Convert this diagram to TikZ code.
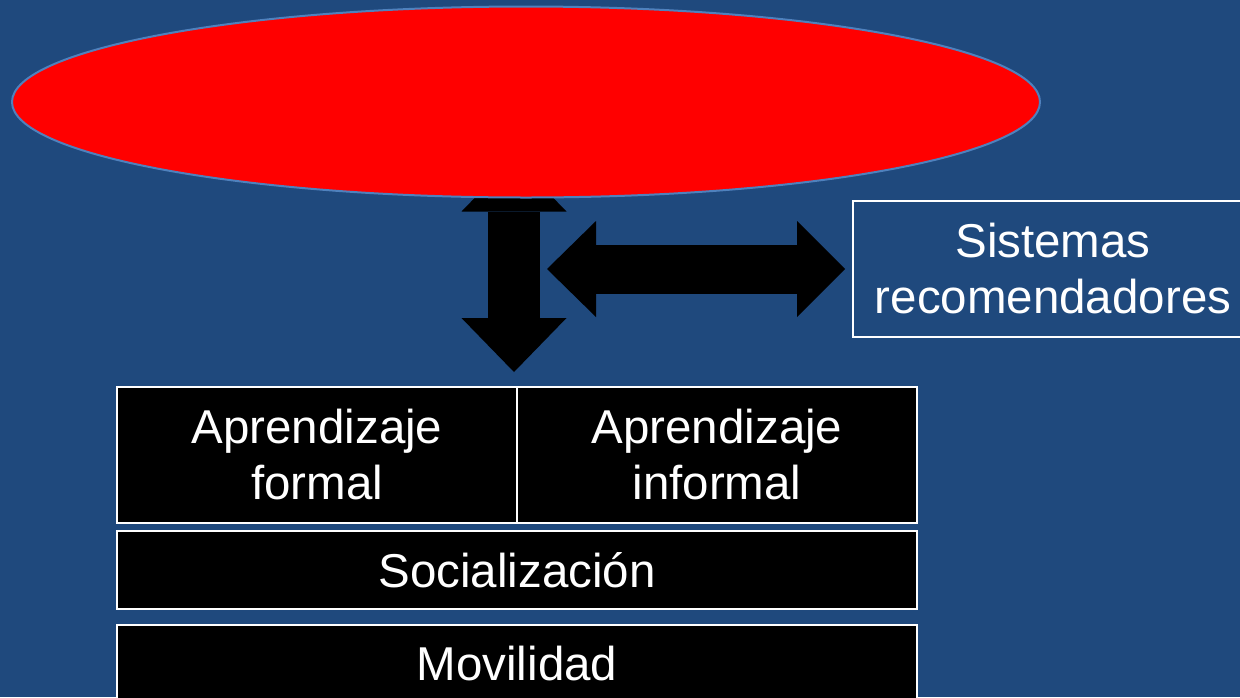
\documentclass[tikz,border=0pt]{standalone}
\usepackage{fontspec}
\setmainfont{Liberation Sans}
\usepackage{xcolor}
\usepackage{tikz}
\usetikzlibrary{shapes,arrows.meta,positioning,calc}

\definecolor{slideblue}{HTML}{1F497D}
\definecolor{rimblue}{HTML}{4F81BD}

\pgfdeclarelayer{back}
\pgfdeclarelayer{mid}
\pgfsetlayers{back,mid,main}

\begin{document}
\begin{tikzpicture}[
  x=1pt, y=-1pt,
  node distance=8pt and 0pt,
  every node/.style={outer sep=0pt, inner sep=0pt},
  bigtext/.style={font=\fontsize{47.5}{56}\selectfont, text=white, align=center},
  layerbox/.style={rectangle, draw=white, line width=1.5pt, fill=black,
    minimum width=400pt, bigtext},
  goal/.style={ellipse, draw=rimblue, line width=2pt, fill=red,
    minimum width=1028pt, minimum height=191pt},
  fatv/.style={line width=52pt,
    {Triangle[length=54pt,width=105pt,line width=0pt]}-{Triangle[length=54pt,width=105pt,line width=0pt]}},
  fath/.style={line width=49pt,
    {Triangle[length=49pt,width=96pt,line width=0pt]}-{Triangle[length=48pt,width=96pt,line width=0pt]}},
]
  \useasboundingbox (0,0) rectangle (1240,697);
  \begin{pgfonlayer}{back}
    \fill[slideblue] (0,0) rectangle (1240,697);
  \end{pgfonlayer}
  \clip (0,0) rectangle (1240,697);

  \node[goal] (goal) at (526,102) {};
  \node[layerbox, fill=slideblue, minimum height=136pt] (recsys) at (1053,269) {Sistemas\\recomendadores};
  \node[layerbox, minimum height=136pt] (formal) at (317,455) {Aprendizaje\\formal};
  \node[layerbox, minimum height=136pt, right=of formal] (informal) {Aprendizaje\\informal};
  \node[layerbox, minimum width=800pt, minimum height=78pt, below=of formal.south east] (social) {Socialización};
  \node[layerbox, minimum width=800pt, minimum height=78pt, below=16pt of social] (mobility) {Movilidad};

  \coordinate (vtop) at ($(goal.south)+(-12,-40)$);
  \coordinate (vbot) at ($(formal.north east)+(-3,-15)$);
  \coordinate (hleft) at ($(recsys.west)+(-306,0)$);
  \coordinate (hright) at ($(recsys.west)+(-8,0)$);

  \begin{pgfonlayer}{mid}
    \draw[fatv] (vtop) -- (vbot);
    \draw[fath] (hleft) -- (hright);
  \end{pgfonlayer}
\end{tikzpicture}
\end{document}
